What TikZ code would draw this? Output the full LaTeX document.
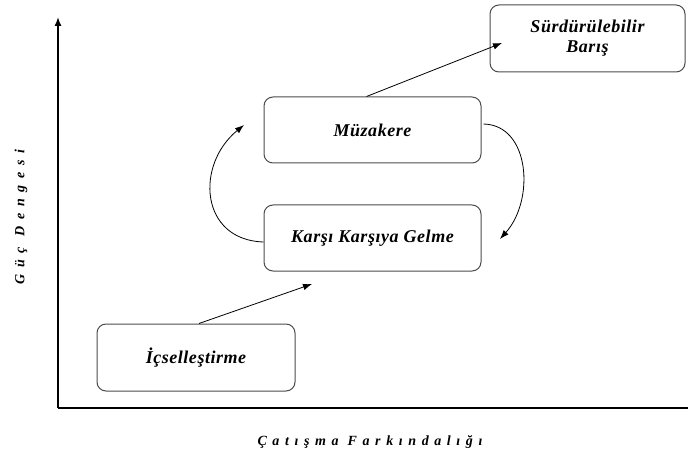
\documentclass[tikz,border=0pt]{standalone}
\usepackage{fontspec}
\setmainfont{Liberation Serif}
\newfontfamily\boxfont[LetterSpace=3]{Liberation Serif}
\newfontfamily\xaxisfont[LetterSpace=40]{Liberation Serif}
\newfontfamily\yaxisfont[LetterSpace=48]{Liberation Serif}
\usetikzlibrary{arrows.meta}
\begin{document}
\begin{tikzpicture}[x=1pt,y=-1pt,
  stagebox/.style={draw=black!70,line width=1pt,rounded corners=9pt,fill=white,align=center,font=\boxfont\bfseries\itshape\fontsize{18}{20}\selectfont},
  conn/.style={line width=0.8pt,-{Latex[length=9pt,width=6.5pt]}},
  axis/.style={line width=1.4pt}]
\useasboundingbox (0,0) rectangle (688,457);
% axes
\coordinate (origin) at (58,408);
\coordinate (ytop) at (58,17);
\coordinate (xend) at (688,408);
\draw[axis,-{Latex[length=9pt,width=7pt]}] (origin) -- (ytop);
\draw[axis] (origin) -- (xend);
\node[rotate=90,font=\yaxisfont\bfseries\itshape\fontsize{14}{15}\selectfont] (ylab) at (21,217) {Güç Dengesi};
\node[font=\xaxisfont\bfseries\itshape\fontsize{14}{15}\selectfont] (xlab) at (370,442) {Çatışma Farkındalığı};
% boxes
\node[stagebox,minimum width=195pt,minimum height=67pt] (sb) at (587.5,38.5) {Sürdürülebilir\\Barış};
\node[stagebox,minimum width=217pt,minimum height=66pt] (mz) at (372.5,130) {Müzakere};
\node[stagebox,minimum width=217pt,minimum height=66pt] (kk) at (372.5,238) {Karşı Karşıya Gelme};
\node[stagebox,minimum width=198pt,minimum height=67pt] (ic) at (196,357.5) {İçselleştirme};
% connectors
\coordinate (a1) at (312,284);
\coordinate (a2) at (502,43);
\draw[conn] (ic.north) ++(3,0) -- (a1);
\draw[conn] (mz.north) ++(-6,0) -- (a2);
\coordinate (a3) at (244,125);
\coordinate (a4) at (500,239);
\draw[conn] (kk.west) ++(0,4) .. controls (200,240) and (195,165) .. (a3);
\draw[conn] (mz.east) ++(2,-6) .. controls (530,125) and (535,200) .. (a4);
\end{tikzpicture}
\end{document}
